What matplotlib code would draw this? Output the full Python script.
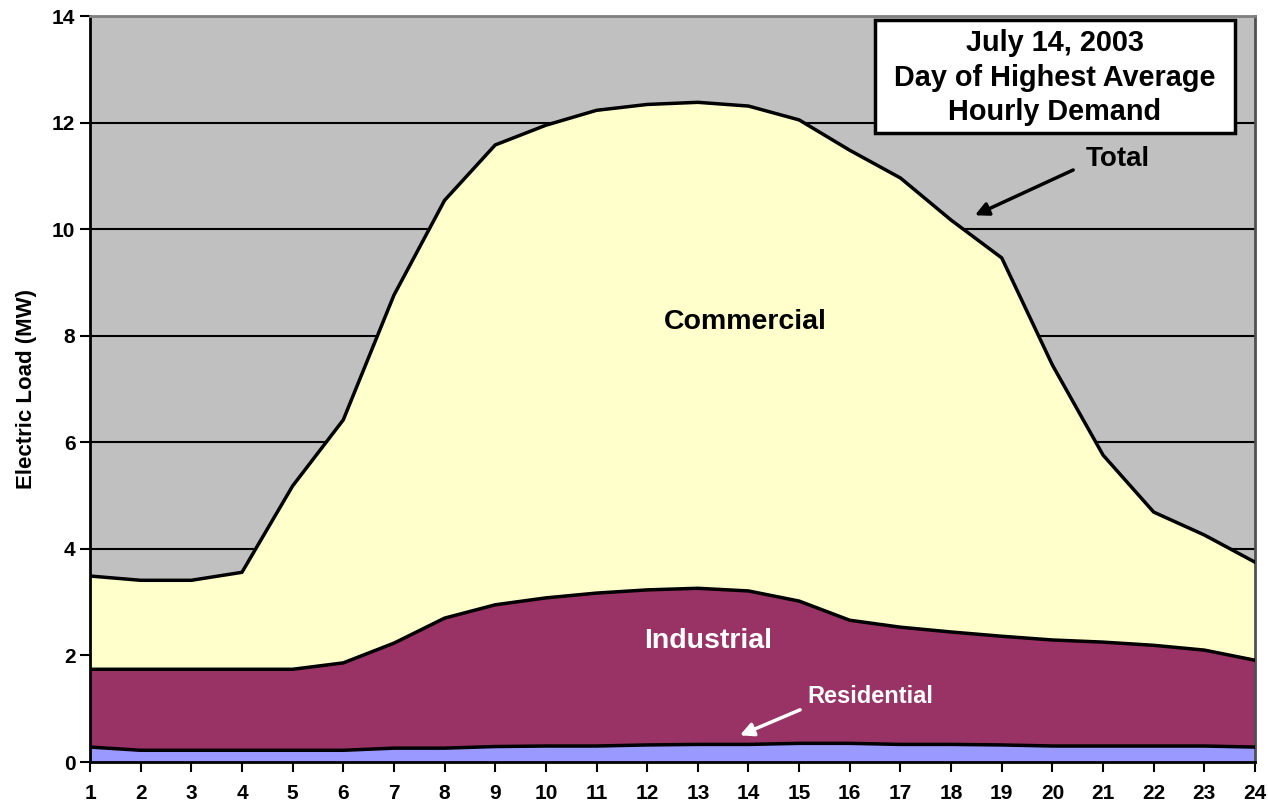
import matplotlib
matplotlib.use("Agg")
import matplotlib.pyplot as plt
from matplotlib.patches import Rectangle

plt.rcParams['font.family'] = ['Liberation Sans', 'DejaVu Sans']

hours = list(range(1, 25))

# cumulative readings (MW)
residential = [0.28, 0.22, 0.22, 0.22, 0.22, 0.22, 0.26, 0.26, 0.29, 0.30, 0.30, 0.32,
               0.33, 0.33, 0.35, 0.35, 0.33, 0.33, 0.32, 0.30, 0.30, 0.30, 0.30, 0.28]
industrial_top = [1.74, 1.74, 1.74, 1.74, 1.74, 1.86, 2.23, 2.70, 2.95, 3.08, 3.17, 3.23,
                  3.26, 3.21, 3.02, 2.66, 2.53, 2.44, 2.36, 2.29, 2.25, 2.19, 2.10, 1.91]
total = [3.49, 3.41, 3.41, 3.56, 5.18, 6.42, 8.76, 10.54, 11.58, 11.95, 12.23, 12.34,
         12.38, 12.31, 12.05, 11.48, 10.96, 10.17, 9.46, 7.45, 5.76, 4.69, 4.26, 3.75]

industrial = [t - r for t, r in zip(industrial_top, residential)]
commercial = [t - i for t, i in zip(total, industrial_top)]

colors = ['#9999FF', '#993366', '#FFFFCC']

fig = plt.figure(figsize=(12.68, 8.06), dpi=100)
ax = fig.add_axes([90 / 1268, 1 - 762 / 806, (1255 - 90) / 1268, (762 - 16) / 806])
ax.set_facecolor('#C0C0C0')

ax.stackplot(hours, residential, industrial, commercial, colors=colors, zorder=2)
for series in (residential, industrial_top, total):
    ax.plot(hours, series, color='black', lw=2.5, zorder=3)

ax.set_xlim(1, 24)
ax.set_ylim(0, 14)
ax.set_xticks(hours)
ax.set_yticks(range(0, 15, 2))
ax.yaxis.grid(True, color='black', lw=1.5, zorder=1)
ax.set_axisbelow(True)
ax.tick_params(axis='both', labelsize=15, width=1.5, length=7, color='black')
ax.tick_params(axis='x', pad=9)
for lbl in ax.get_xticklabels() + ax.get_yticklabels():
    lbl.set_fontweight('bold')

ax.spines['left'].set_linewidth(2)
ax.spines['bottom'].set_linewidth(2)
ax.spines['top'].set_color('#808080')
ax.spines['right'].set_color('#505050')
ax.spines['top'].set_linewidth(2)
ax.spines['right'].set_linewidth(2)

ax.set_ylabel('Electric Load (MW)', fontsize=16, fontweight='bold', labelpad=11)

ax.text(13.93, 8.26, 'Commercial', fontsize=20.5, fontweight='bold', ha='center', va='center', zorder=4)
ax.text(13.2, 2.27, 'Industrial', fontsize=20.5, fontweight='bold', color='white',
        ha='center', va='center', zorder=4)
ax.text(16.4, 1.22, 'Residential', fontsize=17, fontweight='bold', color='white',
        ha='center', va='center', zorder=4)
ax.annotate('', xy=(13.83, 0.5), xytext=(15.02, 0.98), zorder=4,
            arrowprops=dict(arrowstyle='-|>', color='white', lw=2.5, mutation_scale=20,
                            shrinkA=0, shrinkB=0))
ax.text(21.3, 11.32, 'Total', fontsize=20, fontweight='bold', ha='center', va='center', zorder=4)
ax.annotate('', xy=(18.47, 10.26), xytext=(20.41, 11.11), zorder=4,
            arrowprops=dict(arrowstyle='-|>', color='black', lw=2.5, mutation_scale=20,
                            shrinkA=0, shrinkB=0))

# note box
ax.add_patch(Rectangle((16.5, 11.8), 7.11, 2.12, facecolor='white', edgecolor='black',
                       lw=2.5, zorder=5))
ax.text(20.05, 12.84, 'July 14, 2003\nDay of Highest Average\nHourly Demand', fontsize=20.8,
        fontweight='bold', ha='center', va='center', linespacing=1.3, zorder=6)

fig.savefig('out.png', dpi=100)
